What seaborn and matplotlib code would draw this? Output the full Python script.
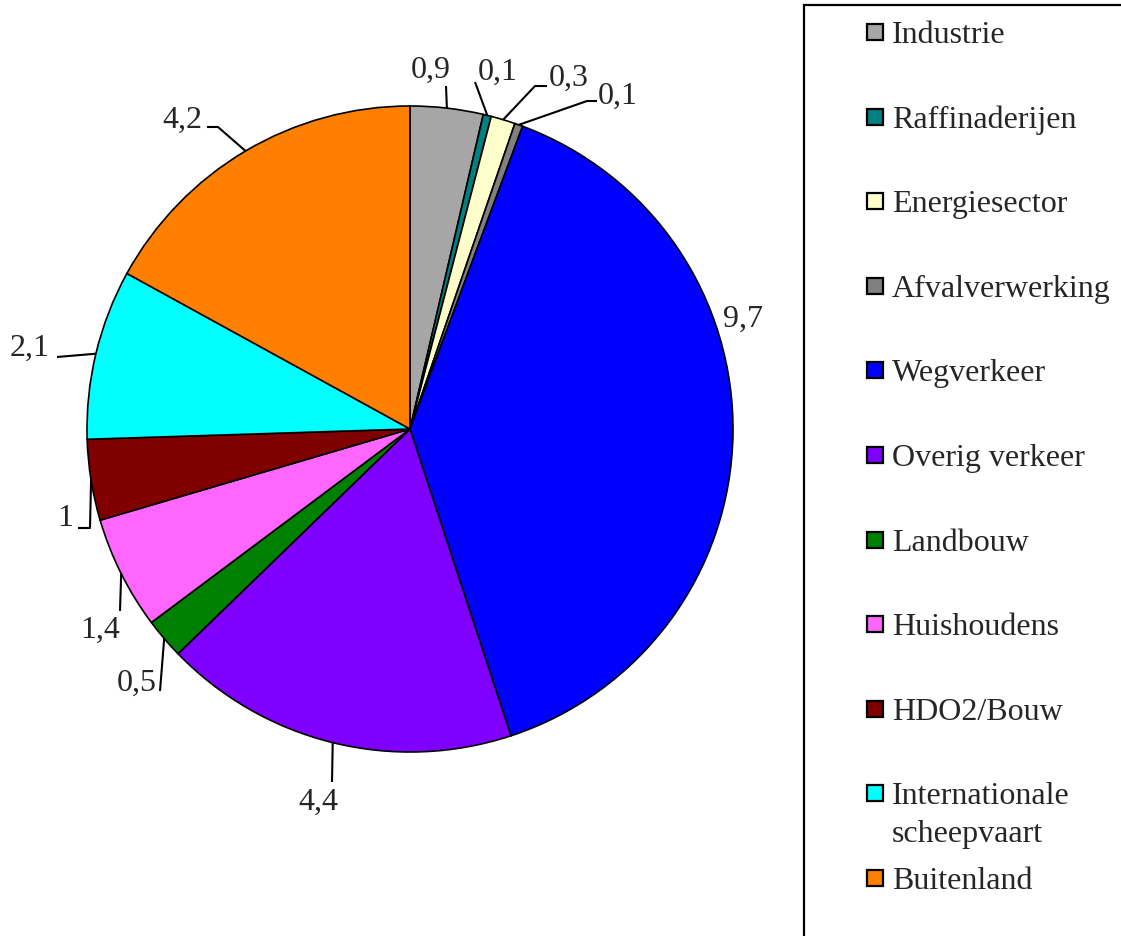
import numpy as np
import matplotlib
matplotlib.use("Agg")
import matplotlib.pyplot as plt
from matplotlib.patches import Rectangle
import seaborn as sns

# Data
categories = ["Industrie", "Raffinaderijen", "Energiesector", "Afvalverwerking",
              "Wegverkeer", "Overig verkeer", "Landbouw", "Huishoudens",
              "HDO2/Bouw", "Internationale\nscheepvaart", "Buitenland"]
values = [0.9, 0.1, 0.3, 0.1, 9.7, 4.4, 0.5, 1.4, 1.0, 2.1, 4.2]
colors = ["#A6A6A6", "#008080", "#FFFFCC", "#808080", "#0000FF", "#8000FF",
          "#008000", "#FF66FF", "#800000", "#00FFFF", "#FF8000"]

sns.set_style("white")
plt.rcParams['font.family'] = ['Liberation Serif', 'DejaVu Serif']

W, H = 1121, 937
CX, CY, R = 410, 430, 323

fig = plt.figure(figsize=(W / 100, H / 100), dpi=100)
ax = fig.add_axes([0, 0, 1, 1])


def px(x, y):
    # pixel position -> data coordinates
    return (x - CX) / R, (CY - y) / R


def fpx(x, y):
    # pixel position -> figure fraction
    return x / W, 1 - y / H


wedges, _ = ax.pie(values, colors=colors, startangle=90, counterclock=False,
                   wedgeprops=dict(edgecolor="black", linewidth=1.2),
                   radius=1, center=(0, 0), frame=True)
ax.set_xlim(-CX / R, (W - CX) / R)
ax.set_ylim((CY - H) / R, CY / R)
ax.set_aspect("auto")
ax.axis("off")

# label text position and leader line path (pixels)
label_layout = [
    ((431, 70), [(446, 87)]),
    ((498, 72), [(475, 83)]),
    ((569, 78), [(535, 87), (547, 87)]),
    ((618, 96), [(587, 102), (597, 102)]),
    ((743, 319), []),
    ((318, 802), [(332, 783)]),
    ((137, 683), [(160, 692)]),
    ((100, 630), [(120, 612)]),
    ((65, 518), [(90, 529), (78, 529)]),
    ((30, 348), [(57, 358)]),
    ((182, 120), [(218, 128), (207, 128)]),
]

for w, v, (tpos, path) in zip(wedges, values, label_layout):
    mid = np.deg2rad((w.theta1 + w.theta2) / 2)
    pts = [(np.cos(mid), np.sin(mid))] + [px(*p) for p in path]
    if path:
        xs, ys = zip(*pts)
        ax.plot(xs, ys, color="black", lw=1.5, solid_capstyle="butt")
    txt = f"{v:g}".replace(".", ",")
    tx, ty = px(*tpos)
    ax.text(tx, ty, txt, fontsize=23, ha="center", va="center")

# legend box
fig.patches.append(Rectangle((804 / W, -0.01), 0.3, 1 - 6 / H + 0.01,
                             transform=fig.transFigure, fill=False,
                             edgecolor="black", linewidth=1.6))

# legend entries: square marker + label, one row every ~84.6 px
for i, (cat, col) in enumerate(zip(categories, colors)):
    base = 43 + 84.6 * i
    x0, y0 = fpx(867, base - 2)
    fig.patches.append(Rectangle((x0, y0), 16 / W, 16 / H, transform=fig.transFigure,
                                 facecolor=col, edgecolor="black", linewidth=1.6))
    for k, line in enumerate(cat.split("\n")):
        fig.text(*fpx(892, base + 38 * k), line, fontsize=23,
                 ha="left", va="baseline")

fig.savefig("out.png", dpi=100)
